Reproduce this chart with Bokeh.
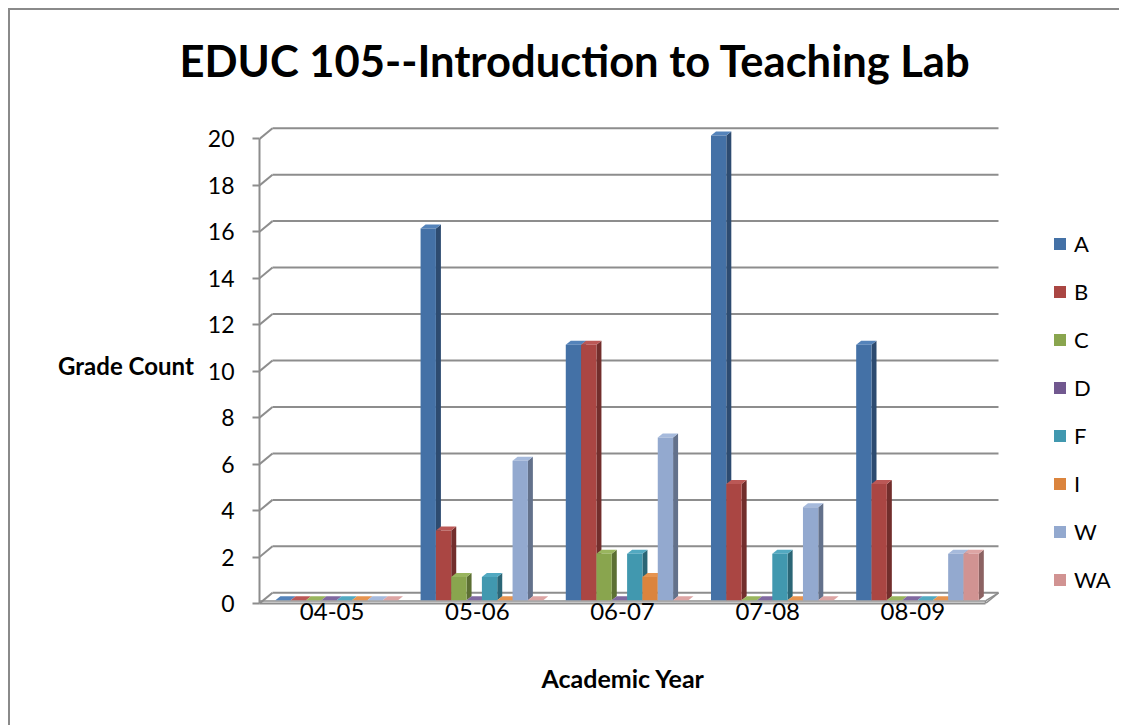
from bokeh.plotting import figure
from bokeh.models import FixedTicker, Legend, LegendItem, Range1d, Title, LinearAxis
from bokeh.embed import file_html
from bokeh.resources import INLINE

# ---------------- data ----------------
years = ["04-05", "05-06", "06-07", "07-08", "08-09"]
grades = ["A", "B", "C", "D", "F", "I", "W", "WA"]
A = [0, 16, 11, 20, 11]
B = [0, 3, 11, 5, 5]
C = [0, 1, 2, 0, 0]
D = [0, 0, 0, 0, 0]
F = [0, 1, 2, 2, 0]
I = [0, 0, 1, 0, 0]
W = [0, 6, 7, 4, 2]
WA = [0, 0, 0, 0, 2]
y_ticks = [0, 2, 4, 6, 8, 10, 12, 14, 16, 18, 20]
series = [A, B, C, D, F, I, W, WA]

# ---------------- style ----------------
front_colors = ["#4471A6", "#AA4643", "#89A54E", "#71588F", "#4198AF", "#DB843D", "#93A9CF", "#D19392"]
side_colors = ["#2D4B70", "#722E2C", "#5C6F33", "#4B3B60", "#2B6676", "#935829", "#63718B", "#8C6262"]
top_colors = ["#5483BA", "#BB5856", "#99B55E", "#8069A0", "#52A9C1", "#E69450", "#A6BADC", "#DDA5A4"]
GRAY = "#8D8D8D"
FONT = "Lato"

SX = 145.2          # px per category
SY = 23.23          # px per count
FRAME_W = 860
FRAME_H = 477
WALL_DX = 13 / SX
WALL_DY = 10.7 / SY
BAR_DX = 5 / SX
BAR_DY = 4 / SY
BASE = 3.3 / SY
SLAB = 2.6 / SY
BAR_W = 15.33 / SX
SHIFT = 4.6 / SX

ncat = len(years)

p = figure(frame_width=FRAME_W, frame_height=FRAME_H,
           x_range=Range1d(0, FRAME_W / SX), y_range=Range1d(0, FRAME_H / SY),
           output_backend="svg", toolbar_location=None,
           min_border_left=249, min_border_right=0, min_border_top=116, min_border_bottom=122,
           background_fill_color="white", border_fill_color="white",
           styles={"margin-left": "8px", "margin-top": "8px",
                   "border-left": "2px solid #8A8A8A", "border-top": "2px solid #8A8A8A"})
p.outline_line_color = None
p.grid.grid_line_color = None

# ---------------- 3D walls / floor ----------------
n = len(y_ticks)
p.segment(x0=[0] * n, y0=y_ticks, x1=[WALL_DX] * n, y1=[t + WALL_DY for t in y_ticks],
          line_color=GRAY, line_width=2)
p.segment(x0=[WALL_DX] * n, y0=[t + WALL_DY for t in y_ticks],
          x1=[ncat + WALL_DX] * n, y1=[t + WALL_DY for t in y_ticks],
          line_color=GRAY, line_width=2)
# floor slab
p.segment(x0=[0, ncat, ncat, ncat], y0=[SLAB, 0, SLAB, 0],
          x1=[ncat, ncat + WALL_DX, ncat + WALL_DX, ncat], y1=[SLAB, WALL_DY, WALL_DY, SLAB],
          line_color=GRAY, line_width=1.5)

# ---------------- bars ----------------
front_renderers = []
for k, vals in enumerate(series):
    xl = [i + 0.5 + SHIFT + (k - 4) * BAR_W for i in range(ncat)]
    xr = [x + BAR_W for x in xl]
    tops = [v + BASE for v in vals]
    side_xs = [[r, r + BAR_DX, r + BAR_DX, r] for r in xr]
    side_ys = [[BASE, BASE + BAR_DY, t + BAR_DY, t] for t in tops]
    top_xs = [[l, r, r + BAR_DX, l + BAR_DX] for l, r in zip(xl, xr)]
    top_ys = [[t, t, t + BAR_DY, t + BAR_DY] for t in tops]
    p.patches(side_xs, side_ys, fill_color=side_colors[k], line_color=None)
    p.patches(top_xs, top_ys, fill_color=top_colors[k], line_color=None)
    fr = p.quad(left=xl, right=xr, bottom=[BASE] * ncat, top=tops,
                fill_color=front_colors[k], line_color=None)
    front_renderers.append(fr)

# ---------------- axes ----------------
yax = p.yaxis[0]
yax.ticker = FixedTicker(ticks=y_ticks)
yax.bounds = (0, 20)
yax.axis_line_color = GRAY
yax.axis_line_width = 2
yax.major_tick_line_color = GRAY
yax.major_tick_line_width = 2
yax.major_tick_out = 7
yax.major_tick_in = 0
yax.minor_tick_line_color = None
yax.major_label_standoff = 18
yax.major_label_text_font = FONT
yax.major_label_text_font_size = "23px"
yax.major_label_text_color = "black"
yax.axis_label = "Grade Count"
yax.axis_label_orientation = "horizontal"
yax.axis_label_text_font = FONT
yax.axis_label_text_font_style = "bold"
yax.axis_label_text_font_size = "24px"
yax.axis_label_text_color = "black"
yax.axis_label_standoff = 11

xax = p.xaxis[0]
xax.ticker = FixedTicker(ticks=[i + 0.5 for i in range(ncat)])
xax.major_label_overrides = {i + 0.5: y for i, y in enumerate(years)}
xax.bounds = (0, ncat)
xax.axis_line_color = GRAY
xax.axis_line_width = 2
xax.major_tick_line_color = None
xax.minor_tick_line_color = None
xax.major_tick_out = 0
xax.major_label_standoff = -1
xax.major_label_text_font = FONT
xax.major_label_text_font_size = "24px"
xax.major_label_text_color = "black"


def spacer(size):
    # an invisible axis used only to reserve vertical room between panels
    return LinearAxis(ticker=FixedTicker(ticks=[0.01]), major_label_overrides={0.01: ""},
                      axis_line_color=None, major_tick_line_color=None, minor_tick_line_color=None,
                      major_tick_out=size, major_tick_in=0, minor_tick_out=0, minor_tick_in=0,
                      major_label_standoff=0, major_label_text_font_size="1px")


# ---------------- title and x-axis title ----------------
p.title.text = ""
p.add_layout(spacer(36), "above")
p.add_layout(Title(text="EDUC 105--Introduction to Teaching Lab", text_font=FONT,
                   text_font_style="bold", text_font_size="43.5px", text_color="black",
                   align="left", offset=-80, standoff=10), "above")

p.add_layout(spacer(38), "below")
p.add_layout(Title(text="Academic Year", text_font=FONT, text_font_style="bold",
                   text_font_size="25px", text_color="black", align="left",
                   offset=282, standoff=0), "below")

# ---------------- legend ----------------
legend = Legend(items=[LegendItem(label=g, renderers=[r]) for g, r in zip(grades, front_renderers)],
                location=(793, 10), orientation="vertical",
                glyph_width=15, glyph_height=15, label_height=20, spacing=21,
                padding=0, margin=0, border_line_color=None, background_fill_alpha=0,
                label_standoff=7, label_text_font=FONT, label_text_font_size="22px",
                label_text_color="black")
p.add_layout(legend)

open("out.html", "w").write(file_html(p, INLINE))
